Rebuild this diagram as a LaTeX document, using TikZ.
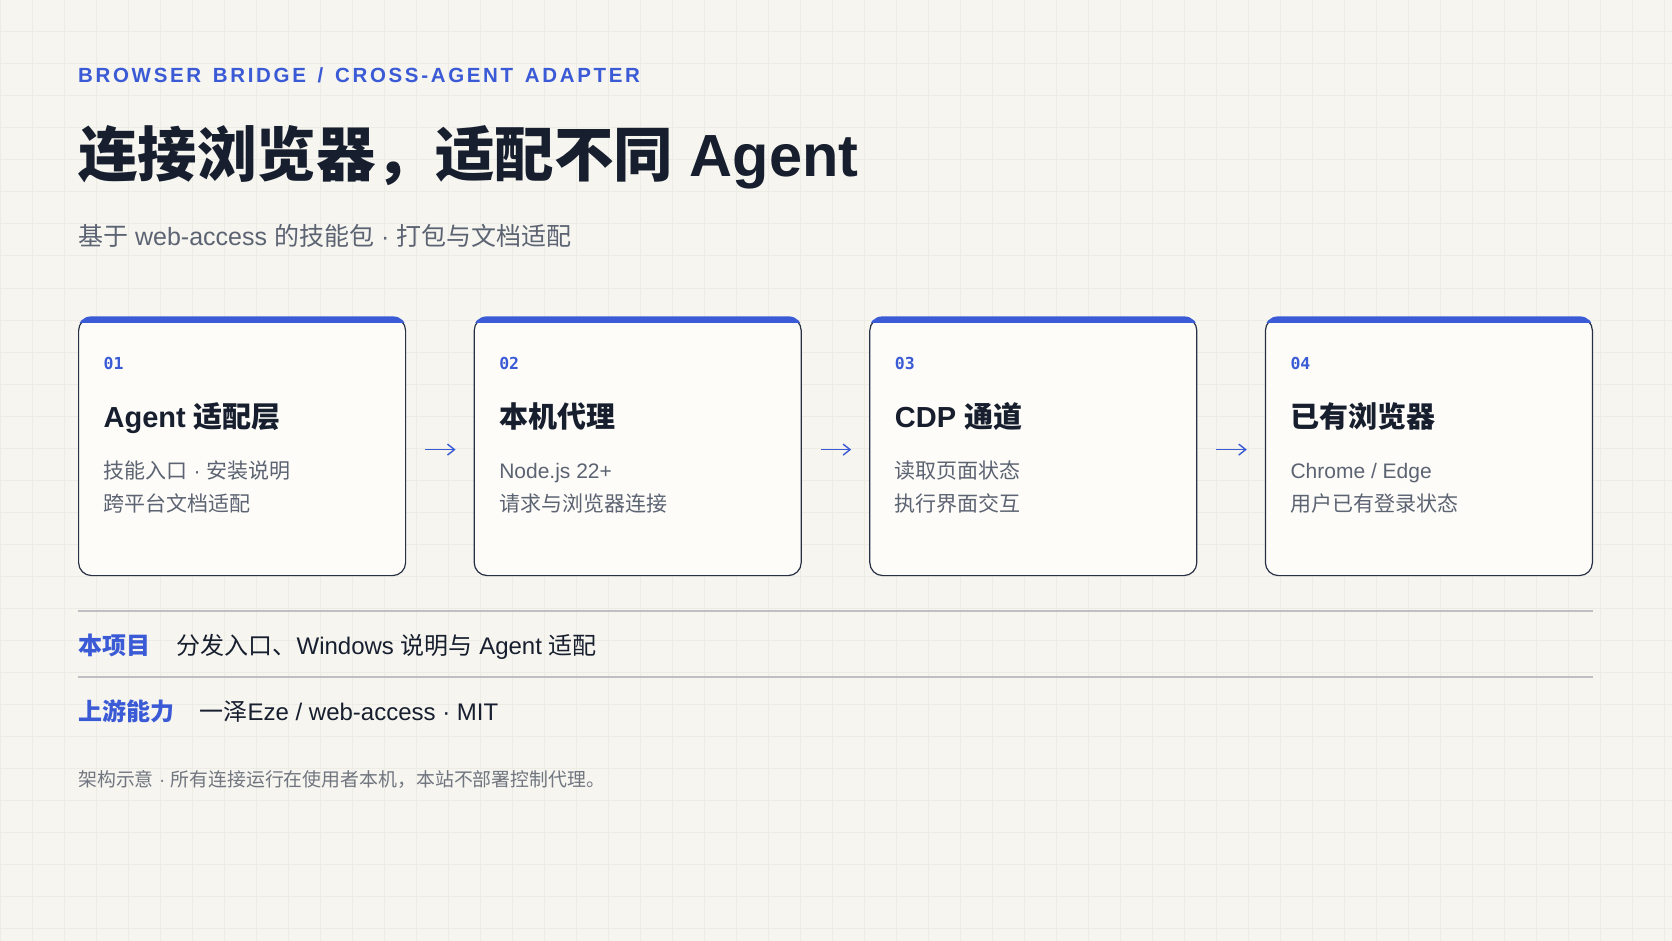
\documentclass[tikz,border=0pt]{standalone}
\usepackage{fontspec}
\setmainfont{Liberation Sans}
\newfontfamily\cjk{Noto Sans CJK SC}
\newfontfamily\monofont{DejaVu Sans Mono}
\newfontfamily\kickerfont[LetterSpace=13,WordSpace=1.4]{Liberation Sans}
\newcommand{\zh}[1]{{\cjk #1}}
\usetikzlibrary{arrows.meta,positioning}
\definecolor{bgc}{HTML}{F6F5F0}
\definecolor{gridc}{HTML}{ECEBE4}
\definecolor{cardfill}{HTML}{FDFCF8}
\definecolor{edge}{HTML}{273044}
\definecolor{ink}{HTML}{171E2E}
\definecolor{mut}{HTML}{5C6372}
\definecolor{foot}{HTML}{70757F}
\definecolor{accent}{HTML}{3A5AD6}
\definecolor{rulec}{HTML}{BDBFC3}
\begin{document}
\begin{tikzpicture}[x=1pt, y=-1pt,
    card/.style={draw=edge, line width=1.2pt, fill=cardfill, rounded corners=13pt,
      minimum width=327pt, minimum height=258pt, inner sep=0pt, anchor=north west},
    txt/.style={inner sep=0pt, anchor=base west},
    num/.style={txt, text=accent, font=\monofont\bfseries\fontsize{16.5}{16.5}\selectfont},
    head/.style={txt, text=ink, font=\bfseries\fontsize{29}{29}\selectfont},
    body/.style={txt, text=mut, align=left, font=\fontsize{21}{33}\selectfont},
    tag/.style={txt, text=accent, font=\cjk\bfseries\fontsize{24}{24}\selectfont},
    line/.style={txt, text=ink, font=\fontsize{24}{24}\selectfont},
    arr/.style={draw=accent, line width=1.4pt, -{Straight Barb[length=7pt,width=11pt]},
      shorten <=19pt, shorten >=18pt}]
    \useasboundingbox (0,0) rectangle (1672,941);
    \fill[bgc] (0,0) rectangle (1672,941);
    \foreach \g in {0,32,...,1664} \draw[gridc, line width=1pt] (\g,0) -- (\g,941);
    \foreach \g in {0,32,...,928} \draw[gridc, line width=1pt] (0,\g) -- (1672,\g);

    \node[txt, text=accent, font=\kickerfont\bfseries\fontsize{20.5}{20.5}\selectfont] (kicker) at (78,82.5)
      {BROWSER BRIDGE / CROSS-AGENT ADAPTER};
    \node[txt, text=ink, font=\bfseries\fontsize{59.5}{59.5}\selectfont] (title) at (78,177)
      {\zh{连接浏览器，适配不同} Agent};
    \node[txt, text=mut, font=\fontsize{25}{25}\selectfont] (subtitle) at (78,246)
      {\zh{基于} web-access \zh{的技能包} · \zh{打包与文档适配}};

    \foreach \i/\head/\la/\lb in {1/{Agent \zh{适配层}}/{\zh{技能入口} · \zh{安装说明}}/{\zh{跨平台文档适配}},
        2/{\zh{本机代理}}/{Node.js 22+}/{\zh{请求与浏览器连接}},
        3/{CDP \zh{通道}}/{\zh{读取页面状态}}/{\zh{执行界面交互}},
        4/{\zh{已有浏览器}}/{Chrome / Edge}/{\zh{用户已有登录状态}}} {
      \node[card] (c\i) at ({78+(\i-1)*395.6},317) {};
      \begin{scope}
        \clip[rounded corners=13.6pt] ([shift={(-0.6,-0.6)}]c\i.north west) rectangle ([shift={(0.6,0.6)}]c\i.south east);
        \fill[accent] ([shift={(-1,-1)}]c\i.north west) rectangle ([shift={(1,6)}]c\i.north east);
      \end{scope}
      \node[num] (n\i) at ([shift={(25.5,52.5)}]c\i.north west) {0\i};
      \node[head] (h\i) at ([shift={(25.5,110)}]c\i.north west) {\head};
      \node[body] (b\i) at ([shift={(25.5,194)}]c\i.north west) {\la\\\lb};
    }
    \foreach \i/\j in {1/2,2/3,3/4}
      \draw[arr] ([yshift=-3pt]c\i.east) -- ([yshift=-3pt]c\j.west);

    \draw[rulec, line width=1.2pt] (78,611) -- (1593,611);
    \draw[rulec, line width=1.2pt] (78,677) -- (1593,677);
    \node[tag] (proj) at (78,654) {本项目};
    \node[line, base right=26pt of proj] (projtxt) {\zh{分发入口、}Windows \zh{说明与} Agent \zh{适配}};
    \node[tag] (up) at (78,720) {上游能力};
    \node[line, base right=25pt of up] (uptxt) {\zh{一泽}Eze / web-access · MIT};

    \node[txt, text=foot, font=\fontsize{18.9}{18.9}\selectfont] (note) at (78,786)
      {\zh{架构示意} · \zh{所有连接运行在使用者本机，本站不部署控制代理。}};
\end{tikzpicture}
\end{document}
